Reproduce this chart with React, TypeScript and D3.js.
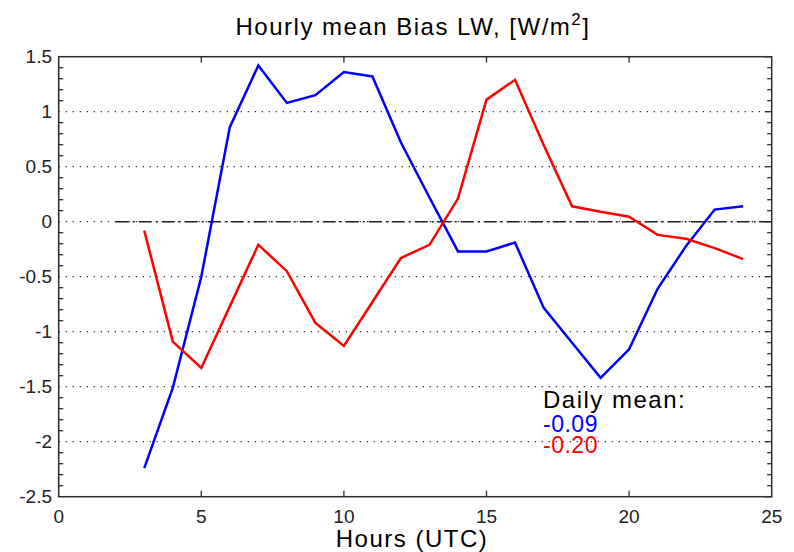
import React from "react";
import * as d3 from "d3";

const hours = [3, 4, 5, 6, 7, 8, 9, 10, 11, 12, 13, 14, 15, 16, 17, 18, 19, 20, 21, 22, 23, 24];
const blueSeries = [-2.24, -1.51, -0.5, 0.86, 1.42, 1.08, 1.15, 1.36, 1.32, 0.72, 0.22, -0.27, -0.27, -0.19, -0.78, -1.1, -1.42, -1.16, -0.61, -0.22, 0.11, 0.14];
const redSeries = [-0.08, -1.09, -1.33, -0.77, -0.21, -0.45, -0.92, -1.13, -0.73, -0.33, -0.21, 0.21, 1.11, 1.29, 0.7, 0.14, 0.09, 0.045, -0.12, -0.155, -0.24, -0.34];
const xTicks = [0, 5, 10, 15, 20, 25];
const yTicks = [-2.5, -2, -1.5, -1, -0.5, 0, 0.5, 1, 1.5];
const gridValues = [-2, -1.5, -1, -0.5, 0, 0.5, 1];
const dailyMeans = ["-0.09", "-0.20"];
const seriesColors = ["#0000ff", "#ff0000"];

const W = 794;
const H = 552;
const L = 58.7, R = 771.7, T = 56.7, B = 496.7;
const FONT = "'Liberation Sans', Arial, Helvetica, sans-serif";
const AXC = "#2b2b2b";

export default function App() {
  const x = d3.scaleLinear().domain([0, 25]).range([L, R]);
  const y = d3.scaleLinear().domain([-2.5, 1.5]).range([B, T]);
  const line = d3
    .line<number>()
    .x((_, i) => x(hours[i]))
    .y((v) => y(v));
  const minor = d3.range(-25, 16).map((k) => k / 10).filter((v) => Math.abs(v * 2 - Math.round(v * 2)) > 1e-6);

  return (
    <svg width={W} height={H} style={{ position: "absolute", left: 0, top: 0, background: "#fff" }} fontFamily={FONT}>
      <rect x={0} y={0} width={W} height={H} fill="#fff" />
      {/* dotted grid */}
      {gridValues.map((v) => (
        <line key={"g" + v} x1={L} x2={R} y1={y(v)} y2={y(v)} stroke="#333" strokeWidth={1.3} strokeDasharray="1.3,5.7" />
      ))}
      {/* zero reference dash-dot */}
      <line x1={x(2)} x2={x(25)} y1={y(0)} y2={y(0)} stroke="#222" strokeWidth={1.5} strokeDasharray="13,4,2,4" />
      {/* minor y ticks */}
      {minor.map((v) => (
        <g key={"m" + v}>
          <line x1={L} x2={L + 4.5} y1={y(v)} y2={y(v)} stroke={AXC} strokeWidth={1.3} />
          <line x1={R} x2={R - 4.5} y1={y(v)} y2={y(v)} stroke={AXC} strokeWidth={1.3} />
        </g>
      ))}
      {yTicks.map((v) => (
        <line key={"yt" + v} x1={R} x2={R - 7} y1={y(v)} y2={y(v)} stroke={AXC} strokeWidth={1.3} />
      ))}
      {xTicks.slice(1, -1).map((v) => (
        <g key={"xt" + v}>
          <line x1={x(v)} x2={x(v)} y1={B} y2={B - 6} stroke={AXC} strokeWidth={1.3} />
          <line x1={x(v)} x2={x(v)} y1={T} y2={T + 6} stroke={AXC} strokeWidth={1.3} />
        </g>
      ))}
      {/* frame */}
      <rect x={L} y={T} width={R - L} height={B - T} fill="none" stroke={AXC} strokeWidth={1.5} />
      {/* series */}
      <path d={line(blueSeries) || ""} fill="none" stroke={seriesColors[0]} strokeWidth={2.5} strokeLinejoin="miter" />
      <path d={line(redSeries) || ""} fill="none" stroke={seriesColors[1]} strokeWidth={2.5} strokeLinejoin="miter" />
      {/* tick labels */}
      {yTicks.map((v) => (
        <text key={"yl" + v} x={52} y={y(v) + 6.5} fontSize={19} textAnchor="end" fill="#222">
          {String(v)}
        </text>
      ))}
      {xTicks.map((v) => (
        <text key={"xl" + v} x={x(v)} y={523} fontSize={19} textAnchor="middle" fill="#222">
          {String(v)}
        </text>
      ))}
      {/* title */}
      <text x={413} y={35} fontSize={24} letterSpacing={1.5} textAnchor="middle" fill="#000">
        Hourly mean Bias LW, [W/m
        <tspan dy={-10} fontSize={17}>2</tspan>
        <tspan dy={10}>]</tspan>
      </text>
      <text x={412} y={547} fontSize={24} letterSpacing={1.5} textAnchor="middle" fill="#000">
        Hours (UTC)
      </text>
      {/* daily mean annotation */}
      <text x={543} y={408} fontSize={24} letterSpacing={1.5} fill="#000">Daily mean:</text>
      <text x={543} y={431.5} fontSize={23} letterSpacing={0.5} fill={seriesColors[0]}>{dailyMeans[0]}</text>
      <text x={543} y={453} fontSize={23} letterSpacing={0.5} fill={seriesColors[1]}>{dailyMeans[1]}</text>
    </svg>
  );
}
